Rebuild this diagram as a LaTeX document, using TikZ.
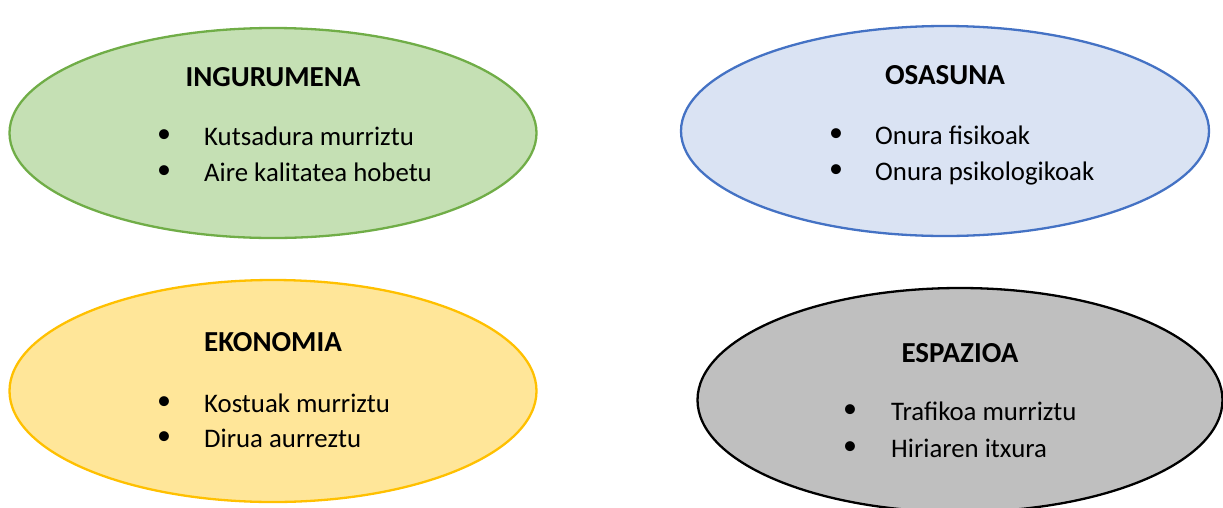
\documentclass[tikz,border=0pt]{standalone}
\usepackage{fontspec}
\setmainfont{Carlito}
\usetikzlibrary{shapes.geometric}
\definecolor{gfill}{HTML}{C5E0B4}
\definecolor{gline}{HTML}{70AD47}
\definecolor{bfill}{HTML}{DAE3F3}
\definecolor{bline}{HTML}{4472C4}
\definecolor{yfill}{HTML}{FFE699}
\definecolor{yline}{HTML}{FFC000}
\definecolor{kfill}{HTML}{BFBFBF}
\tikzset{
  oval/.style={ellipse, line width=2.3pt, inner sep=0pt},
  title/.style={font=\fontsize{29}{32}\selectfont\bfseries, inner sep=0pt, anchor=center},
  item/.style={font=\fontsize{26.8}{30}\selectfont, inner sep=0pt, anchor=base west},
  bul/.style={font=\fontsize{28}{30}\selectfont, inner sep=0pt, anchor=center}
}
\begin{document}
\begin{tikzpicture}[x=1pt,y=-1pt]
\useasboundingbox (0,0) rectangle (1223,507);
% ellipses
\node[oval, draw=gline, fill=gfill, minimum width=527pt, minimum height=210pt] (e1) at (273,133) {};
\node[oval, draw=bline, fill=bfill, minimum width=528pt, minimum height=210pt] (e2) at (945,131) {};
\node[oval, draw=yline, fill=yfill, minimum width=527pt, minimum height=222pt] (e3) at (273,391) {};
\node[oval, draw=black, fill=kfill, minimum width=525pt, minimum height=224pt] (e4) at (960,400) {};
% titles
\node[title] (t1) at (273,77) {INGURUMENA};
\node[title] (t2) at (945,75) {OSASUNA};
\node[title] (t3) at (273,342) {EKONOMIA};
\node[title] (t4) at (960,353) {ESPAZIOA};
% items
\node[bul] (b11) at (164,136) {•};
\node[item] (i11) at (204,145) {Kutsadura murriztu};
\node[bul] (b12) at (164,172) {•};
\node[item] (i12) at (204,181) {Aire kalitatea hobetu};
\node[bul] (b21) at (836,135) {•};
\node[item] (i21) at (875,144) {Onura fisikoak};
\node[bul] (b22) at (836,171) {•};
\node[item] (i22) at (875,180) {Onura psikologikoak};
\node[bul] (b31) at (164,403) {•};
\node[item] (i31) at (204,412) {Kostuak murriztu};
\node[bul] (b32) at (164,438) {•};
\node[item] (i32) at (204,447) {Dirua aurreztu};
\node[bul] (b41) at (850,411) {•};
\node[item] (i41) at (891,420) {Trafikoa murriztu};
\node[bul] (b42) at (850,448) {•};
\node[item] (i42) at (891,457) {Hiriaren itxura};
\end{tikzpicture}
\end{document}
